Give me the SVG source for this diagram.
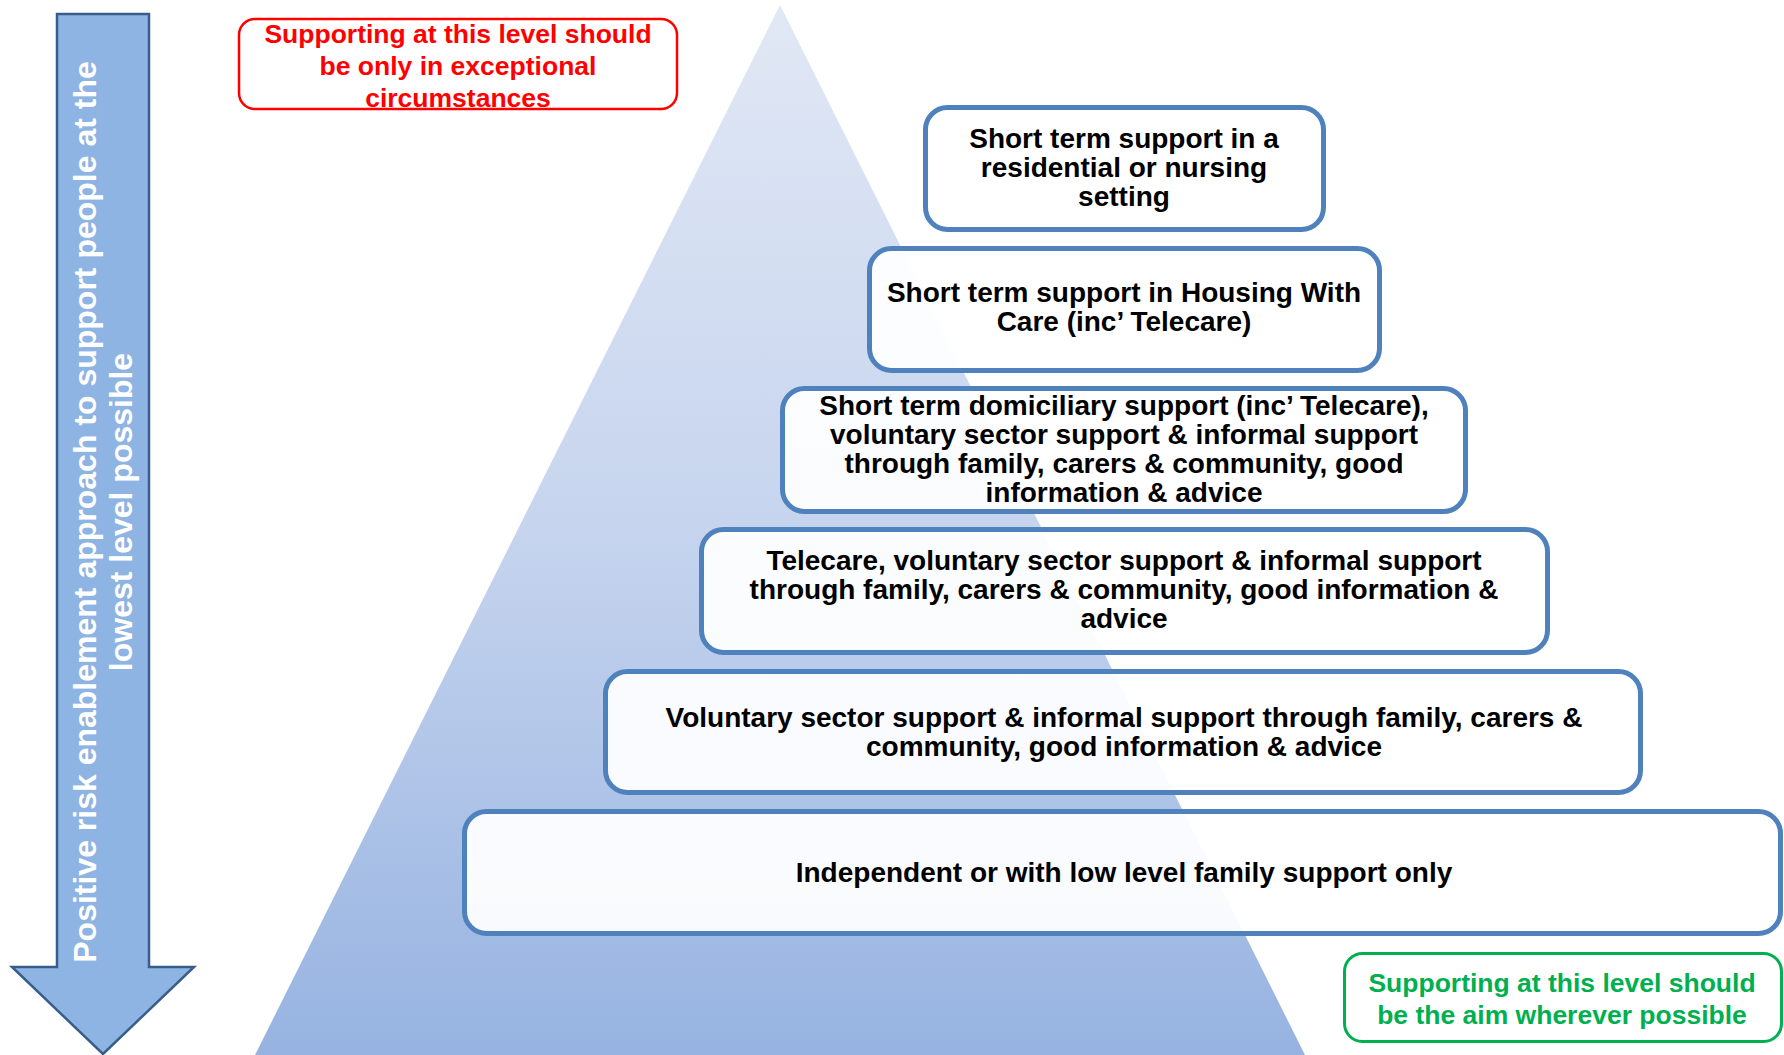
<svg xmlns="http://www.w3.org/2000/svg" width="1784" height="1055" viewBox="0 0 1784 1055">
  <style>
    .lvl { fill: #ffffff; fill-opacity: 0.93; stroke: #4f81bd; stroke-width: 5; }
    .lt { font-family: "Liberation Sans", Arial, sans-serif; font-weight: bold; font-size: 28px; fill: #000000; text-anchor: middle; }
    .note { font-family: "Liberation Sans", Arial, sans-serif; font-weight: bold; font-size: 26.5px; text-anchor: middle; }
    .side { font-family: "Liberation Sans", Arial, sans-serif; font-weight: bold; font-size: 32px; fill: #ffffff; text-anchor: middle; }
  </style>
  <defs>
    <linearGradient id="pyr" x1="0" y1="0" x2="0" y2="1">
      <stop offset="0" stop-color="#e1e8f5"/>
      <stop offset="0.5" stop-color="#c6d4ee"/>
      <stop offset="1" stop-color="#96b3e1"/>
    </linearGradient>
  </defs>
  <rect width="1784" height="1055" fill="#ffffff"/>

  <g id="pyramid">
    <polygon points="780,5 255,1055 1305,1055" fill="url(#pyr)"/>
  </g>

  <g id="side-arrow">
    <polygon points="57,14 149,14 149,967 194,967 103,1054 12,967 57,967" fill="#8eb4e3" stroke="#385d8a" stroke-width="2.5" stroke-linejoin="miter"/>
    <text class="side" transform="translate(96,512) rotate(-90)" x="0" y="0">Positive risk enablement approach to support people at the</text>
    <text class="side" transform="translate(132,512) rotate(-90)" x="0" y="0">lowest level possible</text>
  </g>

  <g id="note-top">
    <rect x="239" y="19" width="438" height="90" rx="16" fill="#ffffff" stroke="#ff0000" stroke-width="2.5"/>
    <text class="note" fill="#ff0000" x="458" y="43">Supporting at this level should</text>
    <text class="note" fill="#ff0000" x="458" y="75">be only in exceptional</text>
    <text class="note" fill="#ff0000" x="458" y="107">circumstances</text>
  </g>

  <g id="level1">
    <rect class="lvl" x="925.5" y="107.5" width="398" height="122" rx="22"/>
    <text class="lt" x="1124" y="148">Short term support in a</text>
    <text class="lt" x="1124" y="177">residential or nursing</text>
    <text class="lt" x="1124" y="206">setting</text>
  </g>

  <g id="level2">
    <rect class="lvl" x="869.5" y="248.5" width="510" height="122" rx="22"/>
    <text class="lt" x="1124" y="302">Short term support in Housing With</text>
    <text class="lt" x="1124" y="331">Care (inc’ Telecare)</text>
  </g>

  <g id="level3">
    <rect class="lvl" x="782.5" y="388.5" width="683" height="123" rx="22"/>
    <text class="lt" x="1124" y="415">Short term domiciliary support (inc’ Telecare),</text>
    <text class="lt" x="1124" y="444">voluntary sector support &amp; informal support</text>
    <text class="lt" x="1124" y="473">through family, carers &amp; community, good</text>
    <text class="lt" x="1124" y="502">information &amp; advice</text>
  </g>

  <g id="level4">
    <rect class="lvl" x="701.5" y="529.5" width="846" height="123" rx="22"/>
    <text class="lt" x="1124" y="570">Telecare, voluntary sector support &amp; informal support</text>
    <text class="lt" x="1124" y="599">through family, carers &amp; community, good information &amp;</text>
    <text class="lt" x="1124" y="628">advice</text>
  </g>

  <g id="level5">
    <rect class="lvl" x="605.5" y="671.5" width="1035" height="121" rx="22"/>
    <text class="lt" x="1124" y="727">Voluntary sector support &amp; informal support through family, carers &amp;</text>
    <text class="lt" x="1124" y="756">community, good information &amp; advice</text>
  </g>

  <g id="level6">
    <rect class="lvl" x="464.5" y="811.5" width="1316" height="122" rx="22"/>
    <text class="lt" x="1124" y="882">Independent or with low level family support only</text>
  </g>

  <g id="note-bottom">
    <rect x="1344.5" y="953.5" width="437" height="88" rx="18" fill="#ffffff" stroke="#00b050" stroke-width="3"/>
    <text class="note" fill="#00b050" x="1562" y="992">Supporting at this level should</text>
    <text class="note" fill="#00b050" x="1562" y="1024">be the aim wherever possible</text>
  </g>

  <g id="connectors"/>
</svg>
